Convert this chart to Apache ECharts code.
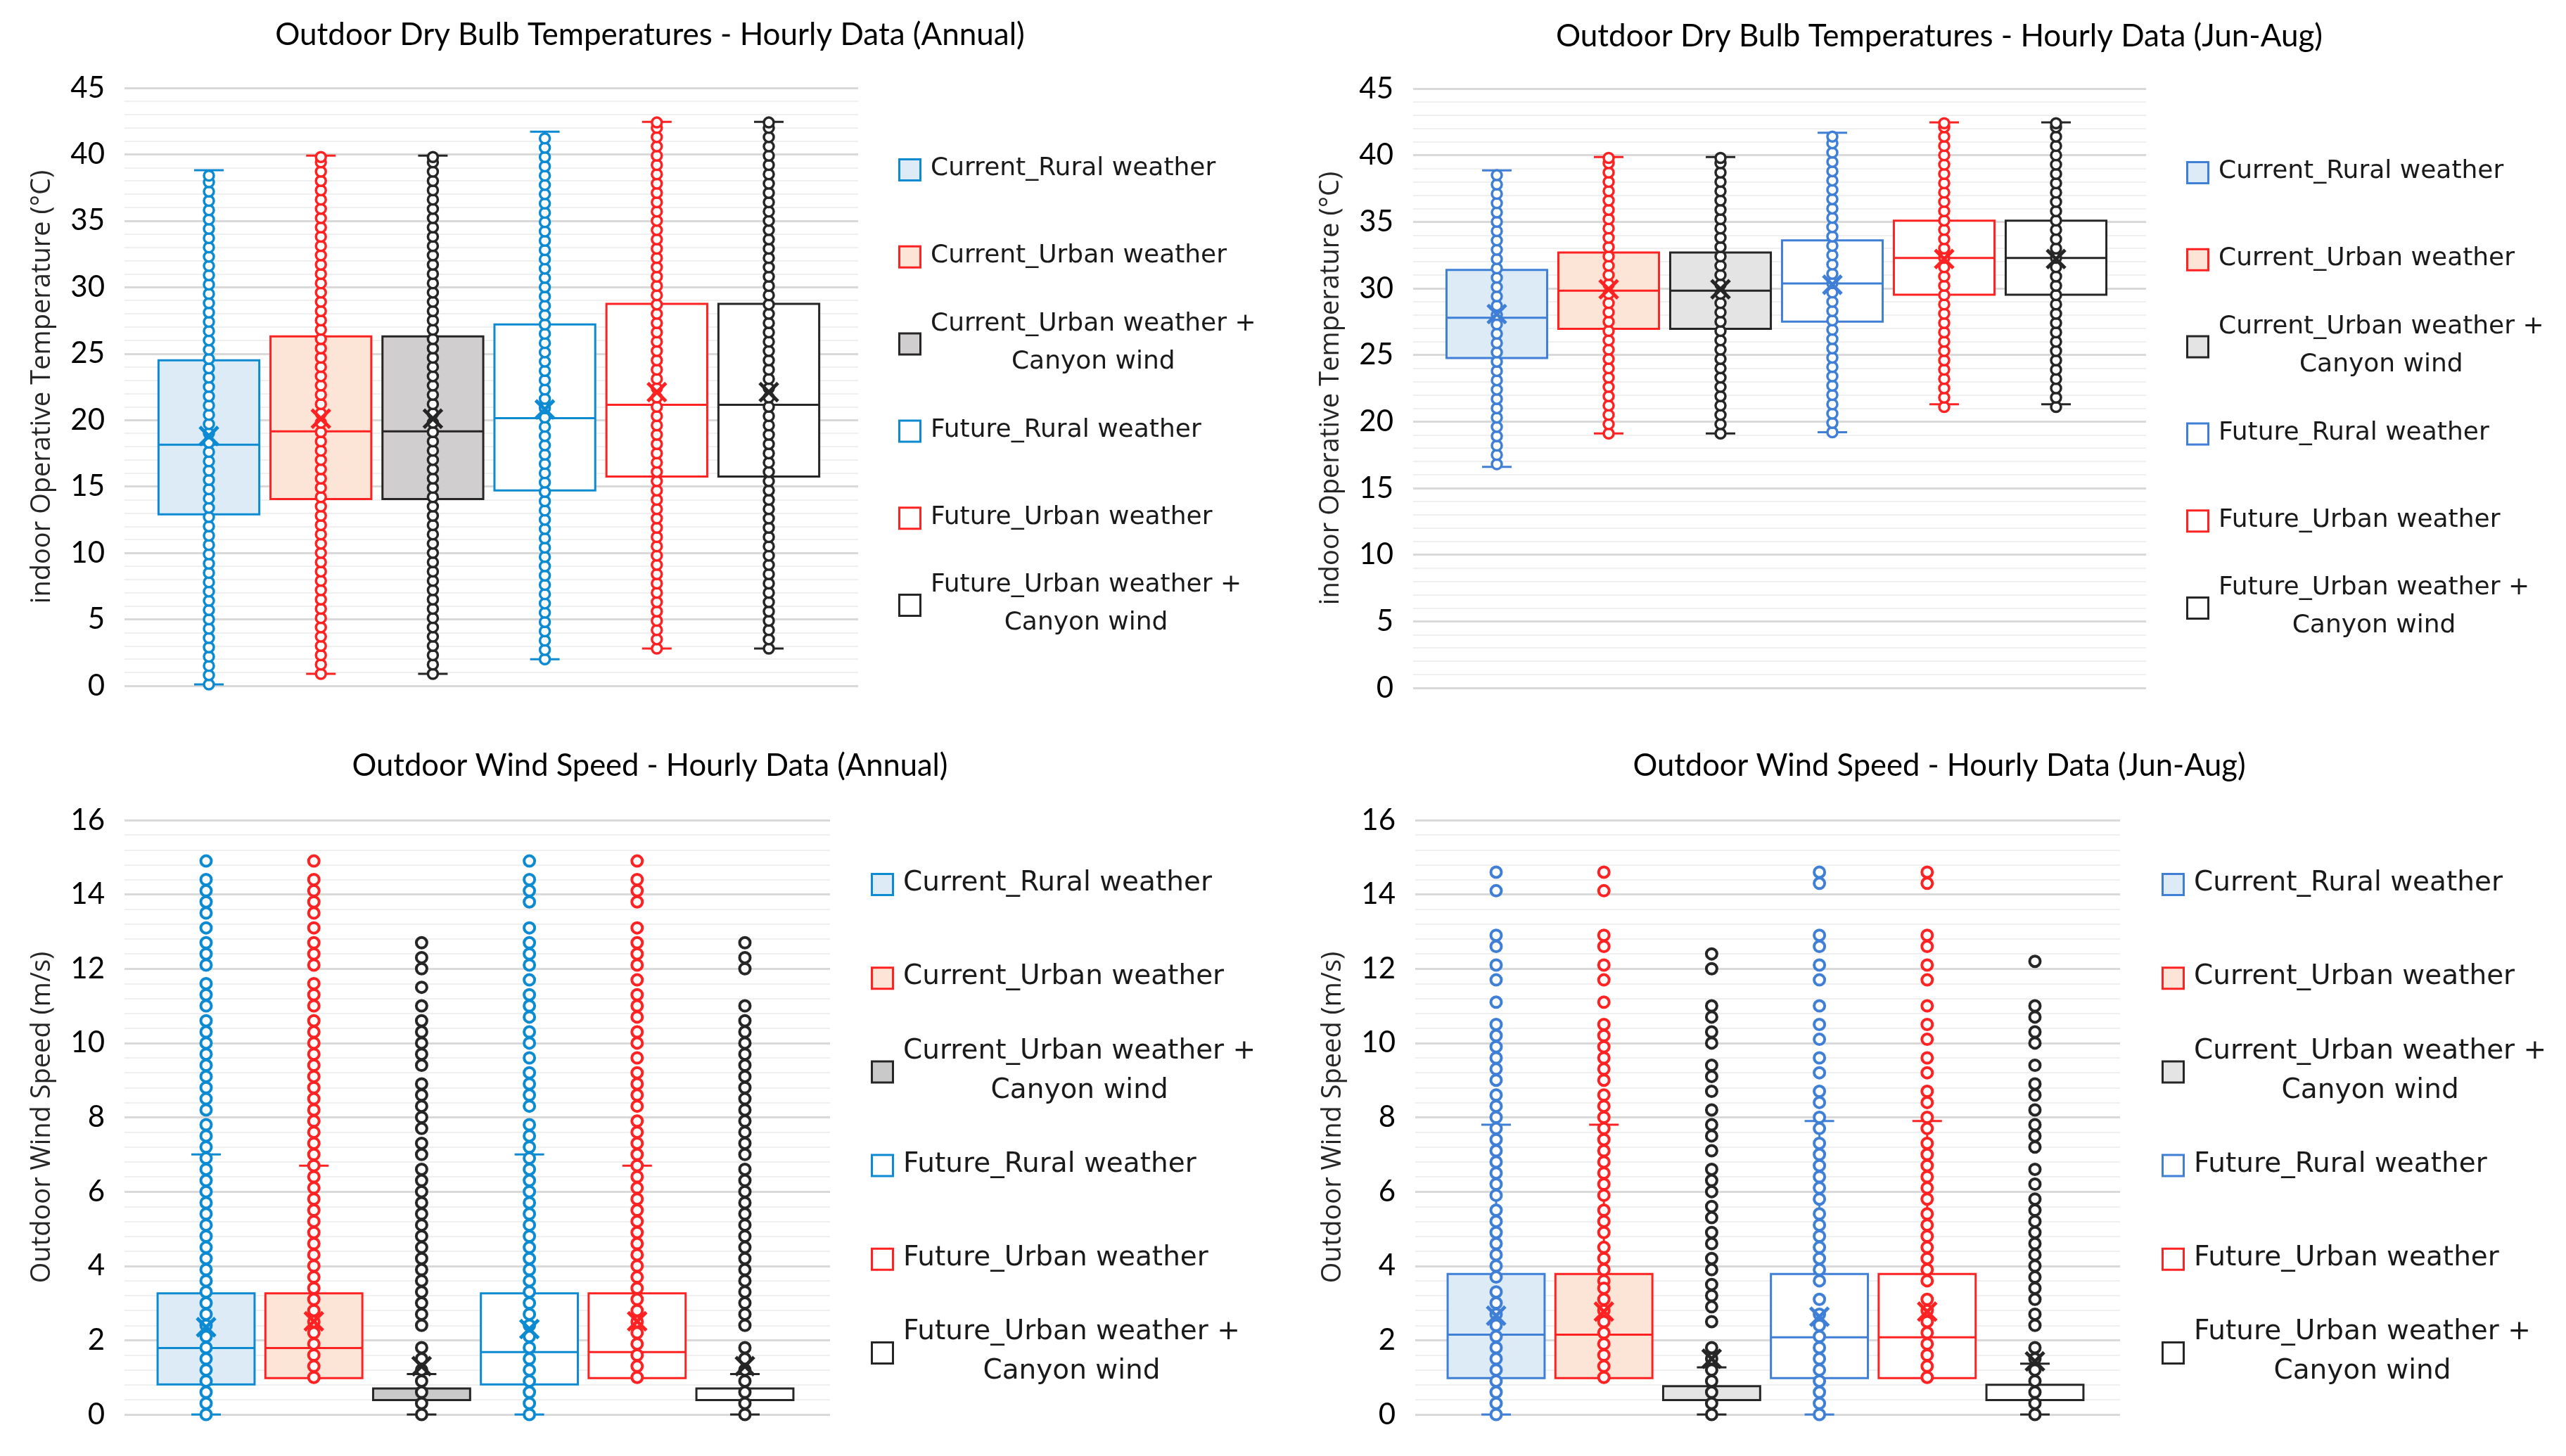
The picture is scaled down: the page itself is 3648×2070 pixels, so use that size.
<!DOCTYPE html>
<html><head><meta charset="utf-8">
<script src="https://cdn.jsdelivr.net/npm/echarts@6/dist/echarts.min.js"></script>
<style>html,body{margin:0;padding:0;background:#fff}#c{width:3648px;height:2070px}</style>
</head><body><div id="c"></div>
<script>
// ---------------- DATA ----------------
const categories = ['Current_Rural weather','Current_Urban weather','Current_Urban weather + Canyon wind','Future_Rural weather','Future_Urban weather','Future_Urban weather + Canyon wind'];
const legendNames = ['Current_Rural weather','Current_Urban weather','Current_Urban weather +\nCanyon wind','Future_Rural weather','Future_Urban weather','Future_Urban weather +\nCanyon wind'];
const panelTitles = ['Outdoor Dry Bulb Temperatures - Hourly Data (Annual)','Outdoor Dry Bulb Temperatures - Hourly Data (Jun-Aug)','Outdoor Wind Speed - Hourly Data (Annual)','Outdoor Wind Speed - Hourly Data (Jun-Aug)'];
const yAxisNames = ['indoor Operative Temperature (°C)','indoor Operative Temperature (°C)','Outdoor Wind Speed (m/s)','Outdoor Wind Speed (m/s)'];

// Temperature - annual
const tempAnnMin    = [0.1, 0.9, 0.9, 2.0, 2.8, 2.8];
const tempAnnQ1     = [12.9, 14.05, 14.05, 14.7, 15.75, 15.75];
const tempAnnMedian = [18.15, 19.15, 19.15, 20.15, 21.15, 21.15];
const tempAnnQ3     = [24.5, 26.3, 26.3, 27.2, 28.75, 28.75];
const tempAnnMax    = [38.8, 39.9, 39.9, 41.7, 42.45, 42.45];
const tempAnnMean   = [18.8, 20.1, 20.1, 20.8, 22.1, 22.1];
// Temperature - Jun-Aug
const tempSumMin    = [16.6, 19.1, 19.1, 19.2, 21.3, 21.3];
const tempSumQ1     = [24.77, 26.96, 26.96, 27.5, 29.52, 29.52];
const tempSumMedian = [27.8, 29.83, 29.83, 30.37, 32.29, 32.29];
const tempSumQ3     = [31.38, 32.69, 32.69, 33.6, 35.09, 35.09];
const tempSumMax    = [38.86, 39.87, 39.87, 41.69, 42.47, 42.47];
const tempSumMean   = [28.07, 29.93, 29.93, 30.27, 32.2, 32.2];
// Wind - annual
const windAnnMin    = [0, 1.0, 0, 0, 1.0, 0];
const windAnnQ1     = [0.81, 0.98, 0.39, 0.81, 0.98, 0.39];
const windAnnMedian = [1.79, 1.79, 0.39, 1.68, 1.68, 0.39];
const windAnnQ3     = [3.26, 3.26, 0.7, 3.26, 3.26, 0.7];
const windAnnMax    = [7.0, 6.7, 1.09, 7.0, 6.7, 1.09];
const windAnnMean   = [2.35, 2.51, 1.3, 2.3, 2.51, 1.3];
// Wind - Jun-Aug
const windSumMin    = [0, 1.0, 0, 0, 1.0, 0];
const windSumQ1     = [0.98, 0.98, 0.39, 0.98, 0.98, 0.39];
const windSumMedian = [2.15, 2.15, 0.39, 2.08, 2.08, 0.39];
const windSumQ3     = [3.78, 3.78, 0.76, 3.78, 3.78, 0.8];
const windSumMax    = [7.8, 7.8, 1.27, 7.9, 7.9, 1.37];
const windSumMean   = [2.66, 2.77, 1.5, 2.63, 2.77, 1.43];

// Inner points (hourly values as drawn)
const tAnnCurRuralPts = [0.1,0.8,1.5,2.2,2.9,3.6,4.3,5.0,5.7,6.4,7.1,7.8,8.5,9.2,9.9,10.6,11.3,12.0,12.7,13.4,14.1,14.8,15.5,16.2,16.9,17.6,18.3,19.0,19.7,20.4,21.1,21.8,22.5,23.2,23.9,24.6,25.3,26.0,26.7,27.4,28.1,28.8,29.5,30.2,30.9,31.6,32.3,33.0,33.7,34.4,35.1,35.8,36.5,37.2,37.9,38.4];
const tAnnCurUrbanPts = [0.9,1.6,2.3,3.0,3.7,4.4,5.1,5.8,6.5,7.2,7.9,8.6,9.3,10.0,10.7,11.4,12.1,12.8,13.5,14.2,14.9,15.6,16.3,17.0,17.7,18.4,19.1,19.8,20.5,21.2,21.9,22.6,23.3,24.0,24.7,25.4,26.1,26.8,27.5,28.2,28.9,29.6,30.3,31.0,31.7,32.4,33.1,33.8,34.5,35.2,35.9,36.6,37.3,38.0,38.7,39.4,39.8];
const tAnnFutRuralPts = [2.0,2.7,3.4,4.1,4.8,5.5,6.2,6.9,7.6,8.3,9.0,9.7,10.4,11.1,11.8,12.5,13.2,13.9,14.6,15.3,16.0,16.7,17.4,18.1,18.8,19.5,20.2,20.9,21.6,22.3,23.0,23.7,24.4,25.1,25.8,26.5,27.2,27.9,28.6,29.3,30.0,30.7,31.4,32.1,32.8,33.5,34.2,34.9,35.6,36.3,37.0,37.7,38.4,39.1,39.8,40.5,41.2];
const tAnnFutUrbanPts = [2.8,3.5,4.2,4.9,5.6,6.3,7.0,7.7,8.4,9.1,9.8,10.5,11.2,11.9,12.6,13.3,14.0,14.7,15.4,16.1,16.8,17.5,18.2,18.9,19.6,20.3,21.0,21.7,22.4,23.1,23.8,24.5,25.2,25.9,26.6,27.3,28.0,28.7,29.4,30.1,30.8,31.5,32.2,32.9,33.6,34.3,35.0,35.7,36.4,37.1,37.8,38.5,39.2,39.9,40.6,41.3,42.0,42.4];
const tSumCurRuralPts = [16.8,17.5,18.2,18.9,19.6,20.3,21.0,21.7,22.4,23.1,23.8,24.5,25.2,25.9,26.6,27.3,28.0,28.7,29.4,30.1,30.8,31.5,32.2,32.9,33.6,34.3,35.0,35.7,36.4,37.1,37.8,38.5];
const tSumCurUrbanPts = [19.1,19.8,20.5,21.2,21.9,22.6,23.3,24.0,24.7,25.4,26.1,26.8,27.5,28.2,28.9,29.6,30.3,31.0,31.7,32.4,33.1,33.8,34.5,35.2,35.9,36.6,37.3,38.0,38.7,39.4,39.8];
const tSumFutRuralPts = [19.2,19.9,20.6,21.3,22.0,22.7,23.4,24.1,24.8,25.5,26.2,26.9,27.6,28.3,29.0,29.7,30.4,31.1,31.8,32.5,33.2,33.9,34.6,35.3,36.0,36.7,37.4,38.1,38.8,39.5,40.2,40.9,41.4];
const tSumFutUrbanPts = [21.1,21.8,22.5,23.2,23.9,24.6,25.3,26.0,26.7,27.4,28.1,28.8,29.5,30.2,30.9,31.6,32.3,33.0,33.7,34.4,35.1,35.8,36.5,37.2,37.9,38.6,39.3,40.0,40.7,41.4,42.1,42.4];

const wAnnCurRuralPts  = [14.9,14.4,14.1,13.8,13.5,13.1,12.7,12.4,12.1,11.6,11.3,11.0,10.6,10.3,10.0,9.7,9.4,9.1,8.8,8.5,8.2,7.8,7.5,7.2,6.9,6.6,6.3,6.0,5.7,5.4,5.1,4.8,4.5,4.2,3.9,3.6,3.3,3.0,2.7,2.4,2.1,1.8,1.5,1.2,0.9,0.6,0.3,0.0];
const wAnnCurUrbanPts  = [14.9,14.4,14.1,13.8,13.5,13.1,12.7,12.4,12.1,11.6,11.3,11.0,10.6,10.3,10.0,9.7,9.4,9.1,8.8,8.5,8.2,7.9,7.6,7.3,7.0,6.7,6.4,6.1,5.8,5.5,5.2,4.9,4.6,4.3,4.0,3.7,3.4,3.1,2.8,2.5,2.2,1.9,1.6,1.3,1.0];
const wAnnCurCanyonPts = [12.7,12.3,12.0,11.5,11.0,10.6,10.3,10.0,9.7,9.4,8.9,8.6,8.3,8.0,7.7,7.3,7.0,6.6,6.3,6.0,5.7,5.4,5.1,4.8,4.5,4.2,3.9,3.6,3.3,3.0,2.7,2.4,1.8,1.5,1.2,0.9,0.6,0.3,0.0];
const wAnnFutRuralPts  = [14.9,14.4,14.1,13.8,13.1,12.7,12.4,12.1,11.7,11.3,11.0,10.7,10.3,10.0,9.6,9.2,8.9,8.6,8.3,7.8,7.5,7.2,6.9,6.6,6.3,6.0,5.7,5.4,5.1,4.8,4.5,4.2,3.9,3.6,3.3,3.0,2.7,2.4,2.1,1.8,1.5,1.2,0.9,0.6,0.3,0.0];
const wAnnFutUrbanPts  = [14.9,14.4,14.1,13.8,13.1,12.7,12.4,12.1,11.7,11.3,11.0,10.7,10.3,10.0,9.6,9.2,8.9,8.6,8.3,7.9,7.6,7.3,7.0,6.7,6.4,6.1,5.8,5.5,5.2,4.9,4.6,4.3,4.0,3.7,3.4,3.1,2.8,2.5,2.2,1.9,1.6,1.3,1.0];
const wAnnFutCanyonPts = [12.7,12.3,12.0,11.0,10.6,10.3,10.0,9.7,9.4,9.1,8.8,8.5,8.2,7.9,7.6,7.3,7.0,6.6,6.3,6.0,5.7,5.4,5.1,4.8,4.5,4.2,3.9,3.6,3.3,3.0,2.7,2.4,1.8,1.5,1.2,0.9,0.6,0.3,0.0];
const wSumCurRuralPts  = [14.6,14.1,12.9,12.6,12.1,11.7,11.1,10.5,10.2,9.9,9.6,9.3,9.0,8.6,8.3,8.0,7.7,7.4,7.1,6.8,6.5,6.2,5.9,5.5,5.2,4.9,4.6,4.3,4.0,3.7,3.3,3.0,2.7,2.4,2.1,1.8,1.5,1.2,0.9,0.6,0.3,0.0];
const wSumCurUrbanPts  = [14.6,14.1,12.9,12.6,12.1,11.7,11.1,10.5,10.2,9.9,9.6,9.3,9.0,8.6,8.3,8.0,7.7,7.4,7.1,6.8,6.5,6.2,5.9,5.5,5.2,4.9,4.5,4.2,3.9,3.6,3.4,3.1,2.8,2.5,2.2,1.9,1.6,1.3,1.0];
const wSumCurCanyonPts = [12.4,12.0,11.0,10.7,10.3,10.0,9.4,9.1,8.7,8.2,7.8,7.5,7.1,6.6,6.3,6.0,5.6,5.3,4.9,4.6,4.2,3.9,3.5,3.2,2.9,2.5,1.8,1.5,1.2,0.9,0.6,0.3,0.0];
const wSumFutRuralPts  = [14.6,14.3,12.9,12.6,12.1,11.7,11.0,10.5,10.1,9.6,9.2,8.7,8.4,8.0,7.7,7.3,7.0,6.7,6.4,6.1,5.8,5.4,5.1,4.8,4.5,4.2,3.9,3.6,3.1,2.7,2.4,2.1,1.8,1.5,1.2,0.9,0.6,0.3,0.0];
const wSumFutUrbanPts  = [14.6,14.3,12.9,12.6,12.1,11.7,11.0,10.5,10.1,9.6,9.2,8.7,8.4,8.0,7.7,7.3,7.0,6.7,6.4,6.1,5.8,5.4,5.1,4.8,4.5,4.2,3.9,3.6,3.1,2.8,2.5,2.2,1.9,1.6,1.3,1.0];
const wSumFutCanyonPts = [12.2,11.0,10.7,10.3,10.0,9.4,8.9,8.6,8.2,7.8,7.5,7.2,6.6,6.2,5.8,5.5,5.2,4.9,4.6,4.3,4.0,3.7,3.4,3.1,2.7,2.4,1.8,1.5,1.2,0.9,0.6,0.3,0.0];

const yTicksTemp = {min: 0, max: 45, interval: 5};
const yTicksWind = {min: 0, max: 16, interval: 2};

// ---------------- LAYOUT / STYLE ----------------
const RED = '#FF2222', DARK = '#262626';
const panels = [
  {gl: {left: 177, top: 125, width: 1043, height: 850}, dataLeft: 217.4, dataWidth: 955.2, ticks: yTicksTemp,
   stats: [tempAnnMin, tempAnnQ1, tempAnnMedian, tempAnnQ3, tempAnnMax], mean: tempAnnMean,
   pts: [tAnnCurRuralPts, tAnnCurUrbanPts, tAnnCurUrbanPts, tAnnFutRuralPts, tAnnFutUrbanPts, tAnnFutUrbanPts],
   blue: '#0C8AD2', gray: '#D0CECE', sym: 14, symBorder: 3.5, titleX: 919, titleY: 50, titleFont: 44,
   legX: 1277, legY0: 240, legStep: 123.8, legFont: 36, legLH: 54},
  {gl: {left: 2009, top: 126, width: 1042, height: 852}, dataLeft: 2048.5, dataWidth: 954, ticks: yTicksTemp,
   stats: [tempSumMin, tempSumQ1, tempSumMedian, tempSumQ3, tempSumMax], mean: tempSumMean,
   pts: [tSumCurRuralPts, tSumCurUrbanPts, tSumCurUrbanPts, tSumFutRuralPts, tSumFutUrbanPts, tSumFutUrbanPts],
   blue: '#3F7FD6', gray: '#E4E4E4', sym: 14, symBorder: 3.5, titleX: 2752, titleY: 52, titleFont: 44,
   legX: 3108, legY0: 244, legStep: 123.8, legFont: 36, legLH: 54},
  {gl: {left: 177, top: 1166, width: 1003, height: 845}, dataLeft: 216.4, dataWidth: 919.2, ticks: yTicksWind,
   stats: [windAnnMin, windAnnQ1, windAnnMedian, windAnnQ3, windAnnMax], mean: windAnnMean,
   pts: [wAnnCurRuralPts, wAnnCurUrbanPts, wAnnCurCanyonPts, wAnnFutRuralPts, wAnnFutUrbanPts, wAnnFutCanyonPts],
   blue: '#0C8AD2', gray: '#C9C9C9', sym: 15, symBorder: 4, titleX: 919, titleY: 1089, titleFont: 43.5,
   legX: 1238, legY0: 1256, legStep: 133.2, legFont: 39, legLH: 56},
  {gl: {left: 2012, top: 1166, width: 1002, height: 845}, dataLeft: 2050.4, dataWidth: 919.2, ticks: yTicksWind,
   stats: [windSumMin, windSumQ1, windSumMedian, windSumQ3, windSumMax], mean: windSumMean,
   pts: [wSumCurRuralPts, wSumCurUrbanPts, wSumCurCanyonPts, wSumFutRuralPts, wSumFutUrbanPts, wSumFutCanyonPts],
   blue: '#3F7FD6', gray: '#E4E4E4', sym: 15, symBorder: 4, titleX: 2752, titleY: 1089, titleFont: 43.5,
   legX: 3073, legY0: 1256, legStep: 133.2, legFont: 39, legLH: 56}
];
function stylesFor(p) {
  return [
    {stroke: p.blue, fill: '#DDEBF7'},
    {stroke: RED, fill: '#FCE4D6'},
    {stroke: DARK, fill: p.gray},
    {stroke: p.blue, fill: '#FFFFFF'},
    {stroke: RED, fill: '#FFFFFF'},
    {stroke: DARK, fill: '#FFFFFF'}
  ];
}

const measureCtx = document.createElement('canvas').getContext('2d');
function textW(str, font) { measureCtx.font = font; return measureCtx.measureText(str).width; }

const grids = [], xAxes = [], yAxes = [], series = [], titles = [], graphics = [];
panels.forEach((p, pi) => {
  const st = stylesFor(p);
  grids.push({left: p.gl.left, top: p.gl.top, width: p.gl.width, height: p.gl.height, containLabel: false});
  grids.push({left: p.dataLeft, top: p.gl.top, width: p.dataWidth, height: p.gl.height, containLabel: false});
  const g0 = pi * 2, g1 = pi * 2 + 1;
  xAxes.push({type: 'category', gridIndex: g0, data: [''], show: false});
  xAxes.push({type: 'category', gridIndex: g1, data: categories, show: false, boundaryGap: true});
  yAxes.push({
    type: 'value', gridIndex: g0, min: p.ticks.min, max: p.ticks.max, interval: p.ticks.interval,
    name: yAxisNames[pi], nameLocation: 'middle', nameGap: 98,
    nameTextStyle: {fontFamily: 'Open Sans', fontSize: 38, color: '#262626'},
    axisLine: {show: false}, axisTick: {show: false},
    axisLabel: {fontFamily: 'Lato', fontSize: 42, color: '#000', margin: 28},
    splitLine: {show: true, lineStyle: {color: '#D9D9D9', width: 3}},
    minorTick: {show: false, splitNumber: 5},
    minorSplitLine: {show: true, lineStyle: {color: '#EFEFEF', width: 2}}
  });
  yAxes.push({type: 'value', gridIndex: g1, min: p.ticks.min, max: p.ticks.max, interval: p.ticks.interval, show: false, splitLine: {show: false}});
  const xi = g1, yi = g1;
  const s = p.stats;
  series.push({
    type: 'custom', name: 'box' + pi, xAxisIndex: xi, yAxisIndex: yi, z: 2,
    data: categories.map((c, i) => [i, s[0][i], s[1][i], s[2][i], s[3][i], s[4][i]]),
    encode: {x: 0, y: [1, 2, 3, 4, 5]},
    renderItem: (params, api) => {
      const i = api.value(0);
      const x = api.coord([i, 0])[0];
      const w = api.size([1, 0])[0] * 0.9;
      const yy = k => api.coord([i, api.value(k)])[1];
      const yMin = yy(1), yQ1 = yy(2), yMed = yy(3), yQ3 = yy(4), yMax = yy(5);
      const c = st[i];
      const ln = (x1, y1, x2, y2) => ({type: 'line', shape: {x1, y1, x2, y2}, style: {stroke: c.stroke, lineWidth: 3}});
      return {type: 'group', children: [
        ln(x, yQ3, x, yMax), ln(x, yQ1, x, yMin),
        ln(x - 21, yMax, x + 21, yMax), ln(x - 21, yMin, x + 21, yMin),
        {type: 'rect', shape: {x: x - w / 2, y: yQ3, width: w, height: yQ1 - yQ3}, style: {fill: c.fill, stroke: c.stroke, lineWidth: 3}},
        ln(x - w / 2, yMed, x + w / 2, yMed)
      ]};
    }
  });
  p.pts.forEach((arr, i) => {
    series.push({
      type: 'scatter', name: categories[i], xAxisIndex: xi, yAxisIndex: yi, z: 3,
      symbol: 'circle', symbolSize: p.sym,
      itemStyle: {color: '#FFFFFF', borderColor: st[i].stroke, borderWidth: p.symBorder, opacity: 1},
      data: arr.map(v => [i, v]), silent: true
    });
  });
  series.push({
    type: 'custom', name: 'mean' + pi, xAxisIndex: xi, yAxisIndex: yi, z: 4,
    data: categories.map((c, i) => [i, p.mean[i]]),
    encode: {x: 0, y: 1},
    renderItem: (params, api) => {
      const i = api.value(0);
      const pt = api.coord([i, api.value(1)]);
      const h = 13;
      const sty = {stroke: st[i].stroke, lineWidth: 5};
      return {type: 'group', children: [
        {type: 'line', shape: {x1: pt[0] - h, y1: pt[1] - h, x2: pt[0] + h, y2: pt[1] + h}, style: sty},
        {type: 'line', shape: {x1: pt[0] - h, y1: pt[1] + h, x2: pt[0] + h, y2: pt[1] - h}, style: sty}
      ]};
    }
  });
  titles.push({text: panelTitles[pi], left: p.titleX, top: p.titleY - 27, textAlign: 'center',
    textStyle: {fontFamily: 'Lato', fontSize: p.titleFont, fontWeight: 'normal', color: '#000'}});
  const font = p.legFont + 'px "DejaVu Sans"';
  legendNames.forEach((name, i) => {
    const yc = p.legY0 + i * p.legStep;
    graphics.push({type: 'rect', left: p.legX, top: yc - 15, shape: {x: 0, y: 0, width: 30, height: 30},
      style: {fill: st[i].fill, stroke: st[i].stroke, lineWidth: 3}, z: 10});
    const lines = name.split('\n');
    const tx = p.legX + 46;
    if (lines.length === 1) {
      graphics.push({type: 'text', x: tx, y: yc, style: {text: name, font: font, fill: '#1A1A1A', textAlign: 'left', textVerticalAlign: 'middle'}, z: 10});
    } else {
      const w1 = textW(lines[0], font);
      graphics.push({type: 'text', x: tx + w1 / 2, y: yc, style: {text: name, font: font, fill: '#1A1A1A', textAlign: 'center', textVerticalAlign: 'middle', lineHeight: p.legLH}, z: 10});
    }
  });
});

const chart = echarts.init(document.getElementById('c'), null, {renderer: 'canvas'});
chart.setOption({
  backgroundColor: '#FFFFFF',
  animation: false,
  title: titles,
  grid: grids, xAxis: xAxes, yAxis: yAxes,
  series: series,
  graphic: graphics
});
</script></body></html>
